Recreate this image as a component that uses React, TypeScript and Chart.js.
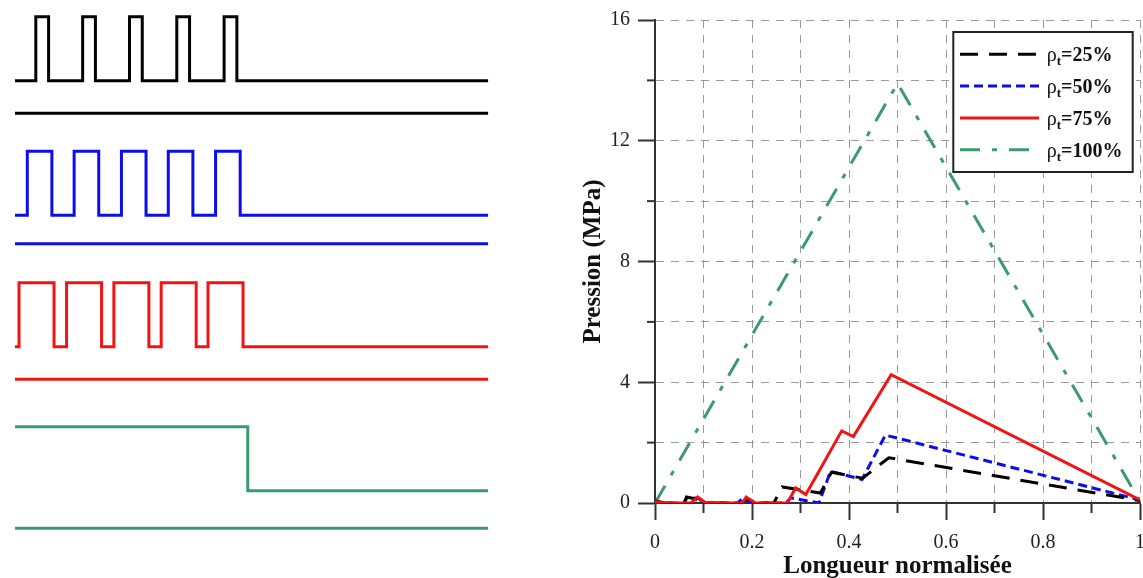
import React, { useEffect, useRef } from "react";
import { Chart, registerables } from "chart.js";

Chart.register(...registerables);

const SERIF = '"Liberation Serif", "Times New Roman", serif';

// ---------------- Right chart data ----------------
const seriesLabels = ["25%", "50%", "75%", "100%"];
const xTickLabels = ["0", "0.2", "0.4", "0.6", "0.8", "1"];
const yTickLabels = ["0", "4", "8", "12", "16"];

const x25 = [0, 0.02, 0.06, 0.065, 0.08, 0.1, 0.18, 0.19, 0.21, 0.245, 0.262, 0.341, 0.364, 0.428, 0.482, 1];
const y25 = [0.08, 0, 0, 0.2, 0.15, 0, 0, 0.15, 0, 0, 0.53, 0.33, 1.02, 0.82, 1.5, 0.08];

const x50 = [0, 0.06, 0.066, 0.09, 0.1, 0.17, 0.18, 0.2, 0.27, 0.28, 0.338, 0.362, 0.427, 0.475, 1];
const y50 = [0, 0, 0.18, 0.15, 0, 0, 0.15, 0, 0, 0.17, 0, 1.05, 0.78, 2.25, 0.1];

const x75 = [0, 0.02, 0.074, 0.088, 0.105, 0.18, 0.188, 0.207, 0.273, 0.29, 0.311, 0.385, 0.409, 0.487, 1];
const y75 = [0.05, 0, 0, 0.2, 0, 0, 0.2, 0, 0, 0.5, 0.28, 2.39, 2.2, 4.25, 0.1];

const x100 = [0, 0.5, 1];
const y100 = [0, 13.9, 0.05];

// ---------------- Left schematic data (positions along strip, 0..100) ----------------
const stripLength = 100;
const pulseStarts25 = [4.4, 14.3, 24.2, 34.2, 44.2];
const pulseWidth25 = 2.7;
const pulseStarts50 = [2.6, 12.5, 22.5, 32.4, 42.4];
const pulseWidth50 = 5.2;
const pulseStarts75 = [0.85, 10.9, 20.9, 30.9, 40.8];
const pulseWidth75 = 7.4;
const fullEnd100 = 49.2;

// colours
const C_BLACK = "#000000";
const C_BLUE = "#0d0dea";
const C_RED = "#f01414";
const C_GREEN = "#3d9970";

// layout of left strips (pixels)
const rowBase = [80.7, 215.3, 346.7, 490.7];
const flatGap = [32.6, 28.4, 32.6, 37.6];
const pulseHeight = 64;

function pulsePoints(starts: number[], width: number) {
  const pts: { u: number; l: number }[] = [{ u: 0, l: 0 }];
  starts.forEach((s) => {
    pts.push({ u: s, l: 0 }, { u: s, l: 1 }, { u: s + width, l: 1 }, { u: s + width, l: 0 });
  });
  pts.push({ u: stripLength, l: 0 });
  return pts;
}

function fullPoints(end: number) {
  return [
    { u: 0, l: 1 },
    { u: end, l: 1 },
    { u: end, l: 0 },
    { u: stripLength, l: 0 },
  ];
}

function zip(xs: number[], ys: number[]) {
  return xs.map((x, i) => ({ x, y: ys[i] }));
}

const legendBoxPlugin = {
  id: "legendBox",
  afterDraw(chart: any) {
    const { ctx, chartArea } = chart;
    const left = chartArea.right - 186.7;
    const top = chartArea.top + 12;
    const w = 179.4;
    const h = 140;
    ctx.save();
    ctx.fillStyle = "#ffffff";
    ctx.fillRect(left, top, w, h);
    ctx.setLineDash([]);
    ctx.strokeStyle = "#222";
    ctx.lineWidth = 2;
    ctx.strokeRect(left, top, w, h);
    const ds = chart.data.datasets;
    seriesLabels.forEach((lab, i) => {
      const d = ds[i];
      const yy = top + 22.3 + i * 31.8;
      ctx.strokeStyle = d.borderColor;
      ctx.lineWidth = 3;
      ctx.setLineDash(d.borderDash || []);
      ctx.beginPath();
      ctx.moveTo(left + 6.7, yy);
      ctx.lineTo(left + 85.7, yy);
      ctx.stroke();
      ctx.setLineDash([]);
      ctx.fillStyle = "#111";
      ctx.textBaseline = "alphabetic";
      ctx.textAlign = "left";
      let tx = left + 93.4;
      ctx.font = `20px ${SERIF}`;
      ctx.fillText("ρ", tx, yy + 7);
      tx += ctx.measureText("ρ").width;
      ctx.font = `bold 13px ${SERIF}`;
      ctx.fillText("t", tx, yy + 11);
      tx += ctx.measureText("t").width;
      ctx.font = `bold 20px ${SERIF}`;
      ctx.fillText("=" + lab, tx, yy + 7);
    });
    ctx.restore();
  },
};

const minorTickPlugin = {
  id: "minorTicks",
  afterDraw(chart: any) {
    const { ctx, chartArea, scales } = chart;
    ctx.save();
    ctx.strokeStyle = "#333";
    ctx.lineWidth = 2;
    ctx.setLineDash([]);
    scales.x.ticks.forEach((t: any) => {
      if (Math.round(t.value * 10) % 2 !== 0) {
        const px = scales.x.getPixelForValue(t.value);
        ctx.beginPath();
        ctx.moveTo(px, chartArea.bottom);
        ctx.lineTo(px, chartArea.bottom + 10);
        ctx.stroke();
      }
    });
    scales.y.ticks.forEach((t: any) => {
      if (Math.round(t.value) % 4 !== 0) {
        const py = scales.y.getPixelForValue(t.value);
        ctx.beginPath();
        ctx.moveTo(chartArea.left, py);
        ctx.lineTo(chartArea.left - 8, py);
        ctx.stroke();
      }
    });
    ctx.restore();
  },
};

export default function App() {
  const leftRef = useRef<HTMLCanvasElement | null>(null);
  const rightRef = useRef<HTMLCanvasElement | null>(null);

  useEffect(() => {
    // ---------- left schematic chart ----------
    const patterns = [
      { pts: pulsePoints(pulseStarts25, pulseWidth25), color: C_BLACK },
      { pts: pulsePoints(pulseStarts50, pulseWidth50), color: C_BLUE },
      { pts: pulsePoints(pulseStarts75, pulseWidth75), color: C_RED },
      { pts: fullPoints(fullEnd100), color: C_GREEN },
    ];
    const leftDatasets: any[] = [];
    patterns.forEach((p, i) => {
      leftDatasets.push({
        data: p.pts.map((q) => ({ x: q.u, y: rowBase[i] - q.l * pulseHeight })),
        borderColor: p.color,
        borderWidth: 3,
        showLine: true,
        pointRadius: 0,
        borderJoinStyle: "miter",
        tension: 0,
      });
      leftDatasets.push({
        data: [
          { x: 0, y: rowBase[i] + flatGap[i] },
          { x: stripLength, y: rowBase[i] + flatGap[i] },
        ],
        borderColor: p.color,
        borderWidth: 3,
        showLine: true,
        pointRadius: 0,
        tension: 0,
      });
    });
    const left = new Chart(leftRef.current as HTMLCanvasElement, {
      type: "scatter",
      data: { datasets: leftDatasets },
      options: {
        responsive: false,
        animation: false,
        layout: { padding: 0 },
        plugins: { legend: { display: false }, tooltip: { enabled: false } },
        scales: {
          x: { type: "linear", display: false, min: -3.17, max: 115.2 },
          y: { type: "linear", display: false, min: 0, max: 578, reverse: true },
        },
      },
    } as any);

    // ---------- right pressure chart ----------
    const gridColor = "#9a9a9a";
    const axisColor = "#333";
    const right = new Chart(rightRef.current as HTMLCanvasElement, {
      type: "line",
      data: {
        datasets: [
          { label: seriesLabels[0], data: zip(x25, y25), borderColor: C_BLACK, borderDash: [18, 11], borderWidth: 3, pointRadius: 0, order: 1 },
          { label: seriesLabels[1], data: zip(x50, y50), borderColor: C_BLUE, borderDash: [9, 5], borderWidth: 3, pointRadius: 0, order: 2 },
          { label: seriesLabels[2], data: zip(x75, y75), borderColor: C_RED, borderWidth: 3, pointRadius: 0, order: 0 },
          { label: seriesLabels[3], data: zip(x100, y100), borderColor: C_GREEN, borderDash: [20, 12, 5, 12], borderWidth: 3, pointRadius: 0, order: 3 },
        ],
      },
      options: {
        responsive: false,
        animation: false,
        layout: { padding: { left: 0, right: 20, top: 18, bottom: 0 } },
        plugins: { legend: { display: false }, tooltip: { enabled: false } },
        elements: { line: { tension: 0, borderJoinStyle: "miter" } },
        scales: {
          x: {
            type: "linear",
            min: 0,
            max: 1,
            afterFit: (s: any) => {
              s.height = 75;
            },
            ticks: {
              stepSize: 0.1,
              autoSkip: false,
              maxRotation: 0,
              padding: 11,
              color: "#222",
              font: { family: SERIF, size: 20 },
              callback: (v: any) => {
                const i = Math.round(Number(v) * 10);
                return i % 2 === 0 ? xTickLabels[i / 2] : "";
              },
            },
            grid: {
              color: gridColor,
              lineWidth: 1,
              tickLength: 17,
              tickWidth: 2,
              tickColor: (c: any) =>
                c.tick && Math.round(c.tick.value * 10) % 2 === 0 ? axisColor : "rgba(0,0,0,0)",
            },
            border: { display: true, color: axisColor, width: 2, dash: [8, 7] },
            title: {
              display: true,
              text: "Longueur normalisée",
              color: "#111",
              font: { family: SERIF, size: 25, weight: "bold", lineHeight: 1 },
              padding: { top: 0, bottom: -1 },
            },
          },
          y: {
            type: "linear",
            min: 0,
            max: 16,
            afterFit: (s: any) => {
              s.width = 95;
            },
            ticks: {
              stepSize: 2,
              autoSkip: false,
              padding: 8,
              color: "#222",
              font: { family: SERIF, size: 20 },
              callback: (v: any) => {
                const n = Math.round(Number(v));
                return n % 4 === 0 ? yTickLabels[n / 4] : "";
              },
            },
            grid: {
              color: gridColor,
              lineWidth: 1,
              tickLength: 17,
              tickWidth: 2,
              tickColor: (c: any) =>
                c.tick && Math.round(c.tick.value) % 4 === 0 ? axisColor : "rgba(0,0,0,0)",
            },
            border: { display: true, color: axisColor, width: 2, dash: [8, 7] },
            title: {
              display: true,
              text: "Pression (MPa)",
              color: "#111",
              font: { family: SERIF, size: 25, weight: "bold", lineHeight: 1 },
              padding: { top: 21, bottom: 0 },
            },
          },
        },
      },
      plugins: [legendBoxPlugin, minorTickPlugin],
    } as any);

    return () => {
      left.destroy();
      right.destroy();
    };
  }, []);

  return (
    <div
      style={{
        position: "fixed",
        left: 0,
        top: 0,
        width: 1143,
        height: 578,
        overflow: "hidden",
        background: "#ffffff",
      }}
    >
      <canvas
        ref={leftRef}
        width={560}
        height={578}
        style={{ position: "absolute", left: 0, top: 0, display: "block" }}
      />
      <canvas
        ref={rightRef}
        width={600}
        height={578}
        style={{ position: "absolute", left: 560, top: 0, display: "block" }}
      />
    </div>
  );
}
